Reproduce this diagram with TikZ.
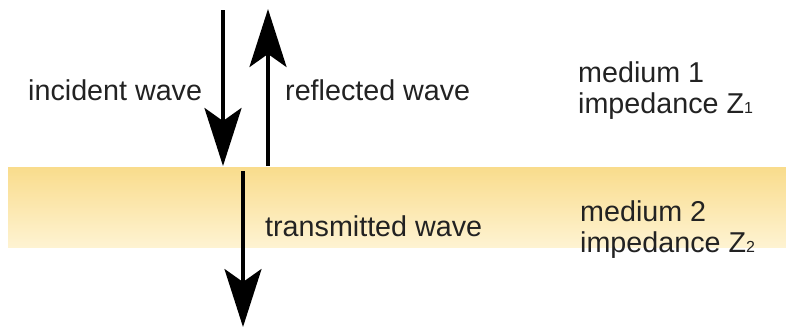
\documentclass[tikz,border=0pt]{standalone}
\usepackage{fontspec}
\setmainfont{Liberation Sans}
\usetikzlibrary{arrows.meta}
\definecolor{bandtop}{HTML}{F9DC8C}
\definecolor{bandbot}{HTML}{FEF3D2}
\definecolor{txt}{HTML}{222222}
\newcommand{\smallsub}[1]{{\fontsize{16}{16}\selectfont #1}}
\tikzset{
  wavearrow/.style={line width=4pt, -{Stealth[length=58pt,width=37pt,inset=13pt]}},
  label/.style={font=\fontsize{28.7}{34}\selectfont, text=txt, inner sep=0pt, anchor=west, align=left},
}
\begin{document}
\begin{tikzpicture}[x=1pt,y=-1pt]
\useasboundingbox (0,0) rectangle (786,327);
\shade[top color=bandtop, bottom color=bandbot] (8,167) rectangle (786,247);
% arrow end points
\coordinate (inTop) at (223,10);
\coordinate (inTip) at (223,166);
\coordinate (reBot) at (268,166);
\coordinate (reTip) at (268,9);
\coordinate (trTop) at (243,171);
\coordinate (trTip) at (243,327);
\draw[wavearrow] (inTop) -- (inTip);
\draw[wavearrow, line width=3.4pt] (reBot) -- (reTip);
\draw[wavearrow, line width=3.2pt] (trTop) -- (trTip);
% labels
\node[label] (incident) at (28,90) {incident wave};
\node[label] (reflected) at (285,90) {reflected wave};
\node[label] (transmitted) at (265,226) {transmitted wave};
\node[label] (med1) at (578,72) {medium 1};
\node[label] (imp1) at (578,106) {impedance Z\smallsub{1}};
\node[label] (med2) at (580,211) {medium 2};
\node[label] (imp2) at (580,245) {impedance Z\smallsub{2}};
\end{tikzpicture}
\end{document}
